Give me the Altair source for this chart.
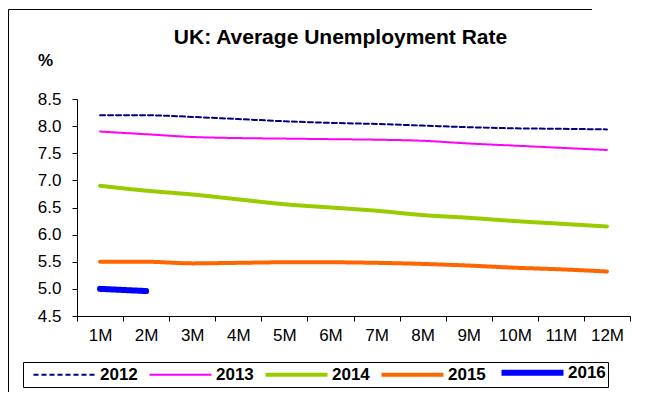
import altair as alt
import pandas as pd

months = ["1M", "2M", "3M", "4M", "5M", "6M", "7M", "8M", "9M", "10M", "11M", "12M"]
years = ["2012", "2013", "2014", "2015", "2016"]
rate_2012 = [8.20, 8.20, 8.17, 8.13, 8.09, 8.06, 8.04, 8.01, 7.98, 7.96, 7.95, 7.94]
rate_2013 = [7.90, 7.85, 7.80, 7.78, 7.77, 7.76, 7.75, 7.73, 7.68, 7.64, 7.60, 7.56]
rate_2014 = [6.90, 6.81, 6.74, 6.65, 6.56, 6.50, 6.44, 6.36, 6.31, 6.25, 6.20, 6.15]
rate_2015 = [5.50, 5.50, 5.47, 5.48, 5.49, 5.49, 5.48, 5.46, 5.43, 5.39, 5.36, 5.32]
rate_2016 = [5.00, 4.96]
y_ticks = [4.5, 5.0, 5.5, 6.0, 6.5, 7.0, 7.5, 8.0, 8.5]

colors = ["#000080", "#FF00FF", "#99CC00", "#FF6600", "#0000FF"]
dashes = [[5, 3], [1, 0], [1, 0], [1, 0], [1, 0]]
widths = [2, 2, 4, 4, 6]

series = {"2012": rate_2012, "2013": rate_2013, "2014": rate_2014,
          "2015": rate_2015, "2016": rate_2016}
rows = []
for yr, vals in series.items():
    for m, v in zip(months, vals):
        rows.append({"month": m, "year": yr, "rate": v})
df = pd.DataFrame(rows)

FONT = "Liberation Sans, Arial"

leg = alt.Legend(
    title=None, orient="none", legendX=-54, legendY=263, direction="horizontal",
    symbolType="M0,0L20.667,0", symbolSize=36, labelFont=FONT, labelFontSize=17,
    labelFontWeight="bold", labelColor="black", labelOffset=58, columnPadding=3,
    padding=2, strokeColor="black", fillColor="white", symbolOpacity=1,
)

lines = alt.Chart(df).mark_line(interpolate="monotone", strokeCap="round").encode(
    x=alt.X("month:N", sort=months,
            scale=alt.Scale(type="band", paddingInner=0, paddingOuter=0),
            axis=alt.Axis(title=None, tickBand="extent", labelAngle=0, tickSize=5,
                          labelPadding=6, labelFont=FONT, labelFontSize=17,
                          labelColor="black", domainColor="black", tickColor="black",
                          grid=False)),
    y=alt.Y("rate:Q", scale=alt.Scale(domain=[4.5, 8.5], nice=False, zero=False),
            axis=alt.Axis(values=y_ticks, format=".1f", title="%", titleAngle=0,
                          titleX=-32, titleY=-39, titleAlign="center",
                          titleBaseline="middle", titleFont=FONT, titleFontSize=17,
                          titleFontWeight="bold", titleColor="black",
                          labelFont=FONT, labelFontSize=17, labelColor="black",
                          labelPadding=11, tickSize=5, domainColor="black",
                          tickColor="black", grid=False)),
    color=alt.Color("year:N", scale=alt.Scale(domain=years, range=colors), legend=leg),
    strokeDash=alt.StrokeDash("year:N", scale=alt.Scale(domain=years, range=dashes), legend=leg),
    strokeWidth=alt.StrokeWidth("year:N", scale=alt.Scale(type="ordinal", domain=years, range=widths), legend=leg),
)

frame_df = pd.DataFrame({"k": [0]})
left_border = alt.Chart(frame_df).mark_rule(color="black", strokeWidth=1).encode(
    x=alt.value(-68.5), y=alt.value(-89.5), y2=alt.value(300))
top_border = alt.Chart(frame_df).mark_rule(color="black", strokeWidth=1).encode(
    x=alt.value(-68.5), x2=alt.value(515), y=alt.value(-89.5))

chart = alt.layer(left_border, top_border, lines).properties(
    width=553, height=217,
    padding={"left": 69, "top": 91, "right": 9, "bottom": 76},
    autosize=alt.AutoSizeParams(type="none"),
    title=alt.TitleParams("UK: Average Unemployment Rate", font=FONT, fontSize=21,
                          fontWeight="bold", color="black", anchor="middle",
                          frame="group", dx=-13, offset=0, dy=39),
).configure_view(strokeWidth=0)

chart.save("out.html", embed_options={"renderer": "svg", "actions": False})
